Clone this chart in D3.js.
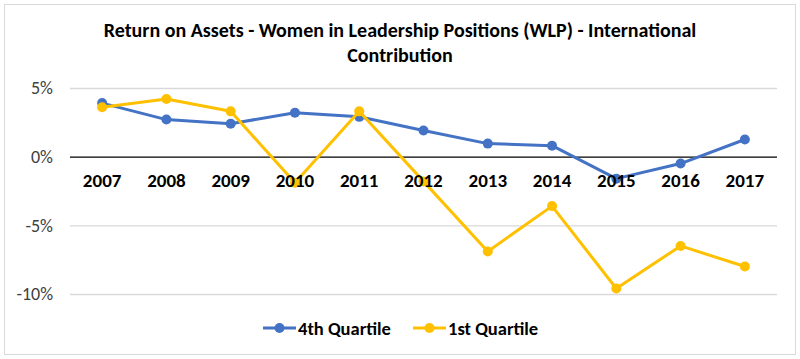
<!DOCTYPE html>
<html><head><meta charset="utf-8">
<script src="https://cdn.jsdelivr.net/npm/d3@7"></script>
<style>body{margin:0;background:#fff}svg{display:block}</style>
</head><body>
<script>
const years = ["2007","2008","2009","2010","2011","2012","2013","2014","2015","2016","2017"];
const q4 = [3.9, 2.7, 2.4, 3.2, 2.9, 1.9, 0.95, 0.8, -1.6, -0.5, 1.25];
const q1 = [3.6, 4.2, 3.3, -1.9, 3.3, -1.8, -6.9, -3.6, -9.6, -6.5, -8.0];
const yTicks = [5, 0, -5, -10];
const seriesNames = ["4th Quartile", "1st Quartile"];
const colors = ["#4472C4", "#FFC000"];

const W = 800, H = 359;
const svg = d3.select("body").append("svg").attr("width", W).attr("height", H);
svg.append("rect").attr("x", 4.5).attr("y", 4.5).attr("width", 791).attr("height", 350)
  .attr("fill", "#fff").attr("stroke", "#d9d9d9");

const x = d3.scaleBand().domain(years).range([70, 777]);
const y = d3.scaleLinear().domain([-10, 5]).range([294, 88]);
const font = "Calibri, Carlito, 'Open Sans', sans-serif";

// title
const title = svg.append("text").attr("x", 400).attr("text-anchor", "middle")
  .attr("font-family", font).attr("font-weight", "bold").attr("font-size", 20).attr("fill", "#000");
title.append("tspan").attr("x", 400).attr("y", 37).text("Return on Assets - Women in Leadership Positions (WLP) - International");
title.append("tspan").attr("x", 400).attr("y", 62).text("Contribution");

// gridlines
const yAxis = d3.axisLeft(y).tickValues(yTicks).tickSize(-(777 - 70)).tickFormat(d => d + "%");
const ga = svg.append("g").attr("transform", "translate(70,0)").call(yAxis);
ga.select(".domain").remove();
ga.selectAll(".tick line").attr("stroke", d => d === 0 ? "#000" : "#d9d9d9").attr("stroke-width", d => d === 0 ? 1.2 : 1.3);
ga.selectAll(".tick text").attr("x", -17).attr("font-family", font).attr("font-size", 18).attr("fill", "#404040");

const line = d3.line().x((d, i) => x(years[i]) + x.bandwidth() / 2).y(d => y(d));
[q4, q1].forEach((s, k) => {
  svg.append("path").datum(s).attr("d", line).attr("fill", "none")
    .attr("stroke", colors[k]).attr("stroke-width", 3).attr("stroke-linejoin", "round");
  svg.selectAll(null).data(s).enter().append("circle")
    .attr("cx", (d, i) => x(years[i]) + x.bandwidth() / 2).attr("cy", d => y(d))
    .attr("r", 5).attr("fill", colors[k]);
});

// x axis labels
const xa = svg.append("g").attr("transform", `translate(0,${y(0)})`)
  .call(d3.axisBottom(x).tickSize(0).tickPadding(17));
xa.select(".domain").remove();
xa.selectAll(".tick text").attr("font-family", font).attr("font-weight", "bold").attr("font-size", 19).attr("fill", "#000");

// legend
const leg = [{x: 263, name: seriesNames[0], c: colors[0]}, {x: 413, name: seriesNames[1], c: colors[1]}];
leg.forEach(l => {
  const g = svg.append("g").attr("transform", `translate(${l.x},328)`);
  g.append("line").attr("x1", 0).attr("x2", 33).attr("stroke", l.c).attr("stroke-width", 3);
  g.append("circle").attr("cx", 16.5).attr("r", 5).attr("fill", l.c);
  g.append("text").attr("x", 35).attr("y", 6.5).attr("font-family", font).attr("font-weight", "bold")
    .attr("font-size", 18.5).attr("fill", "#000").text(l.name);
});
</script>
</body></html>
